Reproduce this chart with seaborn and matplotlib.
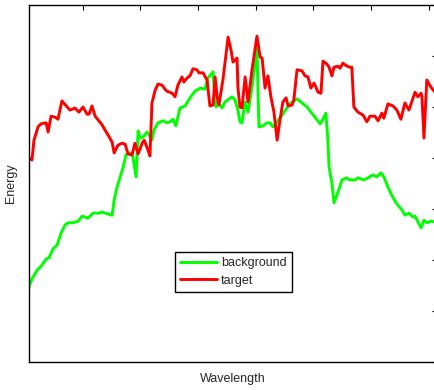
import numpy as np
import pandas as pd
import matplotlib
matplotlib.use("Agg")
import matplotlib.pyplot as plt
import seaborn as sns

# spectral bands and energies
bg_band = [1.2, 2.4, 4.2, 5.9, 7.3, 8.3, 9.7, 11.1, 12.5, 13.9, 14.9, 16.6, 18.4, 19.8,
           21.8, 23.6, 25.7, 26.7, 28.8, 30.2, 30.9, 31.9, 32.9, 34.0, 35.0, 35.7, 36.7,
           37.4, 38.5, 39.2, 39.9, 40.9, 42.3, 43.0, 44.0, 44.7, 46.1, 47.8, 49.2, 50.3,
           51.3, 52.3, 53.7, 55.5, 57.2, 58.9, 60.7, 62.4, 63.4, 65.2, 65.5, 66.2, 66.9,
           68.3, 69.3, 71.8, 72.8, 73.8, 74.5, 75.2, 76.3, 77.3, 78.7, 80.4, 81.1, 82.5,
           83.9, 84.9, 86.0, 87.4, 89.1, 90.8, 92.2, 94.3, 96.0, 97.8, 99.1, 100.5, 102.3,
           103.3, 104.3, 105.0, 105.4, 106.4, 107.1, 108.5, 109.9, 111.3, 112.7, 114.4,
           115.4, 117.5, 118.9, 120.6, 122.0, 123.4, 124.4, 125.8, 127.6, 128.9, 130.7,
           131.7, 133.1, 134.5, 135.2, 136.2, 137.3, 138.3, 139.3, 140.7, 142.1, 143.0]
bg_energy = [1.45, 1.63, 1.80, 1.90, 2.02, 2.04, 2.22, 2.29, 2.53, 2.69, 2.73, 2.73, 2.76, 2.86,
             2.82, 2.92, 2.92, 2.94, 2.90, 2.88, 3.18, 3.43, 3.61, 3.82, 4.06, 4.08, 4.10,
             4.02, 3.63, 4.53, 4.39, 4.41, 4.51, 4.45, 4.35, 4.55, 4.69, 4.73, 4.69, 4.71,
             4.76, 4.63, 4.98, 5.02, 5.18, 5.31, 5.37, 5.35, 5.57, 5.69, 5.39, 5.00, 5.10,
             4.98, 5.10, 5.20, 5.14, 4.94, 4.71, 4.69, 5.10, 4.90, 5.39, 6.14, 4.61, 4.63,
             4.69, 4.69, 4.61, 4.71, 4.84, 4.98, 5.08, 5.16, 5.08, 5.00, 4.90, 4.80, 4.67,
             4.76, 4.88, 4.35, 3.82, 3.51, 3.12, 3.33, 3.57, 3.61, 3.57, 3.57,
             3.61, 3.57, 3.61, 3.67, 3.63, 3.71, 3.63, 3.43, 3.22, 3.10, 2.98,
             2.88, 2.92, 2.84, 2.86, 2.75, 2.63, 2.78, 2.73, 2.76, 2.75, 2.75]

tg_band = [1.2, 2.4, 3.1, 4.5, 5.5, 7.3, 8.0, 9.0, 10.4, 11.4, 12.8, 14.6, 15.6, 17.3, 18.7,
           20.1, 21.5, 22.2, 23.2, 24.3, 25.3, 26.7, 27.7, 28.8, 30.2, 30.9, 32.2, 33.6,
           34.7, 35.7, 37.1, 38.1, 39.2, 40.6, 41.3, 42.6, 43.3, 44.0, 45.1, 46.1, 47.5,
           48.5, 49.2, 51.0, 52.0, 53.0, 54.4, 55.1, 56.2, 57.2, 58.2, 59.6, 60.3, 61.7,
           63.1, 64.1, 65.2, 65.9, 66.6, 67.2, 68.6, 69.3, 70.4, 71.4, 72.1, 73.5, 73.8,
           74.5, 75.2, 76.3, 77.3, 78.7, 80.4, 81.5, 82.2, 83.2, 84.2, 85.3, 86.3, 87.4,
           88.4, 89.4, 90.5, 91.2, 92.6, 93.2, 94.3, 96.0, 97.1, 98.1, 99.1, 100.2, 101.6,
           102.6, 103.3, 104.7, 105.4, 106.4, 107.1, 108.5, 109.2, 110.2, 111.6, 112.7,
           113.3, 114.0, 115.4, 117.2, 118.5, 119.6, 121.3, 122.4, 123.7, 124.4, 125.8,
           127.6, 128.9, 130.3, 131.7, 133.1, 135.2, 136.2, 137.3, 137.6, 138.3, 139.3,
           140.7, 142.1, 143.0]
tg_energy = [4.00, 3.96, 4.35, 4.61, 4.67, 4.69, 4.51, 4.82, 4.80, 4.76, 5.12, 5.00, 4.94,
             4.98, 4.90, 5.00, 4.86, 4.86, 5.02, 4.82, 4.75, 4.65, 4.55, 4.45, 4.31, 4.10,
             4.25, 4.29, 4.27, 4.08, 4.06, 4.29, 4.08, 4.29, 4.35, 4.16, 4.04, 5.08, 5.33,
             5.45, 5.43, 5.35, 5.31, 5.27, 5.20, 5.43, 5.59, 5.49, 5.57, 5.61, 5.75, 5.73,
             5.67, 5.67, 5.53, 5.02, 5.04, 5.59, 5.20, 5.04, 5.53, 5.86, 6.37, 6.12, 5.88,
             5.96, 5.39, 5.00, 4.98, 5.59, 5.10, 5.73, 6.39, 5.98, 5.96, 5.37, 5.61, 5.18,
             4.90, 4.35, 4.75, 5.10, 5.18, 5.02, 5.04, 5.14, 5.73, 5.71, 5.61, 5.59, 5.37,
             5.47, 5.29, 5.27, 5.90, 5.84, 5.78, 5.61, 5.78, 5.80, 5.76, 5.86, 5.80, 5.78,
             5.78, 5.00, 4.90, 4.84, 4.71, 4.82, 4.82, 4.73, 4.88, 4.78, 5.06, 5.02, 4.94,
             4.76, 5.08, 4.94, 5.29, 5.20, 5.27, 5.20, 4.39, 5.53, 5.39, 5.29, 5.25]

x_ticks = [20, 40, 60, 80, 100, 120, 140]
y_ticks = [0, 1, 2, 3, 4, 5, 6, 7]

sns.set_style("white")
plt.rcParams['font.family'] = ['Liberation Sans', 'DejaVu Sans']

bg = pd.DataFrame({"band": bg_band, "energy": bg_energy})
tg = pd.DataFrame({"band": tg_band, "energy": tg_energy})

fig = plt.figure(figsize=(4.35, 3.9), dpi=100)
ax = fig.add_axes([28.5 / 435, 28 / 390, 409 / 435, 357 / 390])

sns.lineplot(data=bg, x="band", y="energy", color="#00ff00", linewidth=2.1,
             estimator=None, sort=False, label="background", ax=ax)
sns.lineplot(data=tg, x="band", y="energy", color="#ff0000", linewidth=2.1,
             estimator=None, sort=False, label="target", ax=ax)

ax.set_xlim(1.2, 143.0)
ax.set_ylim(0, 7)
ax.set_xticks(x_ticks)
ax.set_yticks(y_ticks)
ax.tick_params(direction="in", length=3.5, width=0.8, color="black",
               top=True, right=True, labelbottom=False, labelleft=False)
for s in ax.spines.values():
    s.set_color("black")
    s.set_linewidth(1.0)

ax.set_xlabel("Wavelength", fontsize=9)
ax.set_ylabel("Energy", fontsize=9)
ax.xaxis.set_label_coords(0.5, -0.031)
ax.yaxis.set_label_coords(-0.028, 0.5)

leg = ax.legend(loc="center", bbox_to_anchor=(0.501, 0.252), fontsize=9,
                frameon=True, fancybox=False, handlelength=3.0, handletextpad=0.3,
                labelspacing=0.45, borderpad=0.4)
leg.get_frame().set_edgecolor("black")
leg.get_frame().set_linewidth(1.0)
leg.get_frame().set_alpha(1)

fig.savefig("out.png", dpi=100)
